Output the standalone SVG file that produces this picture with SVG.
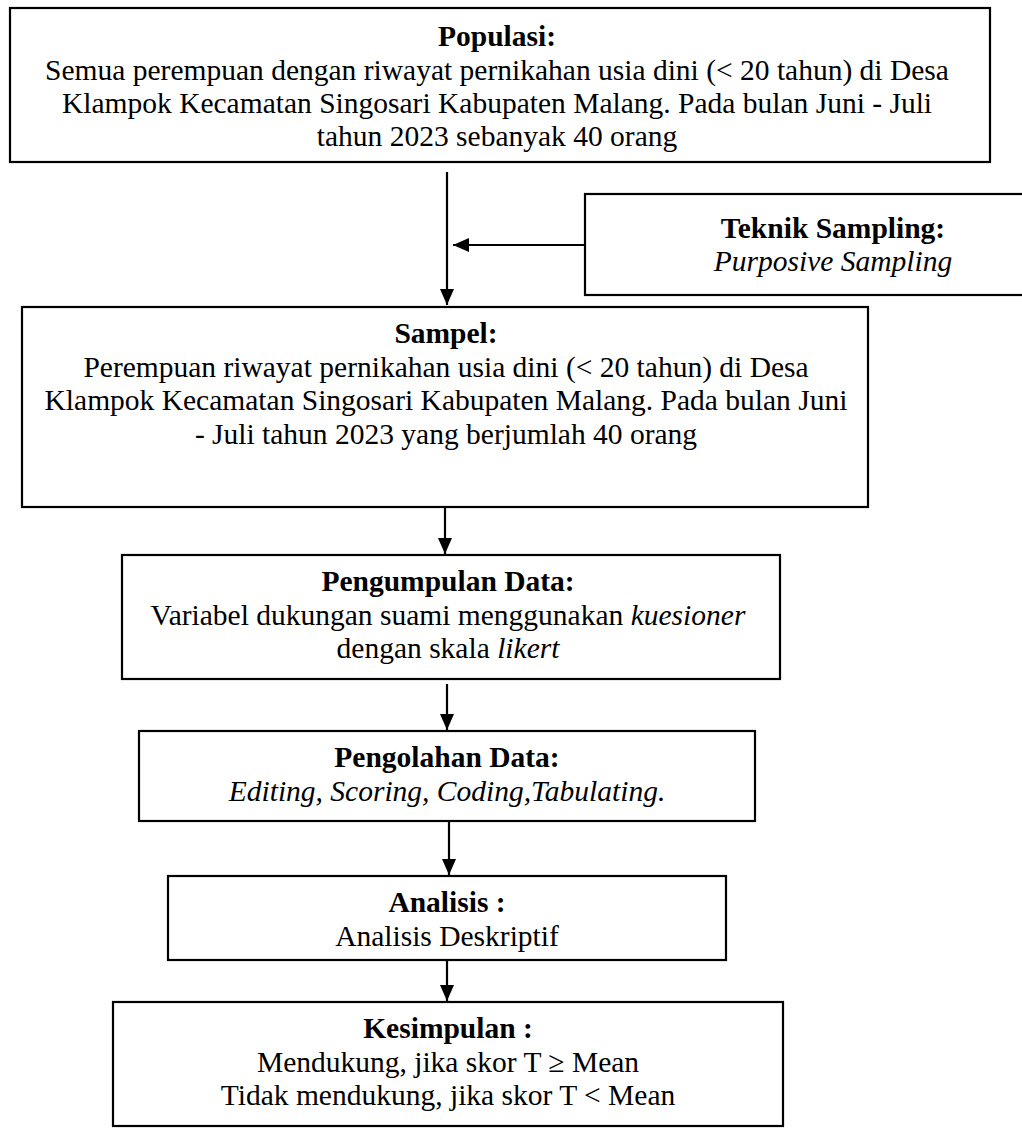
<svg xmlns="http://www.w3.org/2000/svg" width="1022" height="1128" viewBox="0 0 1022 1128">
<style>
.box{fill:#fff;stroke:#000;stroke-width:2.2}
text{font-family:"Liberation Serif","Times New Roman",serif;font-size:29.5px;fill:#000;text-anchor:middle}
.b{font-weight:bold}
.i{font-style:italic}
.c{stroke:#000;stroke-width:2.2;fill:none}
</style>
<defs>
<marker id="a" viewBox="0 0 16 14" refX="16" refY="7" markerWidth="16" markerHeight="14" markerUnits="userSpaceOnUse" orient="auto">
<path d="M0,0 L16,7 L0,14 z" fill="#000"/>
</marker>
</defs>
<rect width="1022" height="1128" fill="#fff"/>
<g id="populasi">
<rect class="box" x="10" y="8" width="980" height="154"/>
<text x="497" y="46" class="b">Populasi:</text>
<text x="497" y="80">Semua perempuan dengan riwayat pernikahan usia dini (&lt; 20 tahun) di Desa</text>
<text x="497" y="113">Klampok Kecamatan Singosari Kabupaten Malang. Pada bulan Juni - Juli</text>
<text x="497" y="146">tahun 2023 sebanyak 40 orang</text>
</g>
<g id="teknik">
<rect class="box" x="585" y="194" width="450" height="101"/>
<text x="833" y="238" class="b">Teknik Sampling:</text>
<text x="833" y="271" class="i">Purposive Sampling</text>
</g>
<g id="sampel">
<rect class="box" x="22" y="307" width="846" height="200"/>
<text x="446" y="343" class="b">Sampel:</text>
<text x="446" y="376.5">Perempuan riwayat pernikahan usia dini (&lt; 20 tahun) di Desa</text>
<text x="446" y="410">Klampok Kecamatan Singosari Kabupaten Malang. Pada bulan Juni</text>
<text x="446" y="443.5">- Juli tahun 2023 yang berjumlah 40 orang</text>
</g>
<g id="pengumpulan">
<rect class="box" x="122" y="555" width="658" height="124"/>
<text x="448" y="591" class="b">Pengumpulan Data:</text>
<text x="448" y="624.5">Variabel dukungan suami menggunakan <tspan class="i">kuesioner</tspan></text>
<text x="448" y="658">dengan skala <tspan class="i">likert</tspan></text>
</g>
<g id="pengolahan">
<rect class="box" x="139" y="731" width="616" height="90"/>
<text x="447" y="767" class="b">Pengolahan Data:</text>
<text x="447" y="800.5" class="i">Editing, Scoring, Coding,Tabulating.</text>
</g>
<g id="analisis">
<rect class="box" x="168" y="876" width="558" height="84"/>
<text x="447" y="912" class="b">Analisis :</text>
<text x="447" y="945.5">Analisis Deskriptif</text>
</g>
<g id="kesimpulan">
<rect class="box" x="113" y="1002" width="670" height="124"/>
<text x="448" y="1038" class="b">Kesimpulan :</text>
<text x="448" y="1071.5">Mendukung, jika skor T ≥ Mean</text>
<text x="448" y="1105">Tidak mendukung, jika skor T &lt; Mean</text>
</g>
<g id="connectors">
<line class="c" x1="447" y1="172" x2="447" y2="305" marker-end="url(#a)"/>
<line class="c" x1="585" y1="245" x2="453" y2="245" marker-end="url(#a)"/>
<line class="c" x1="445" y1="507" x2="445" y2="554" marker-end="url(#a)"/>
<line class="c" x1="447" y1="684" x2="447" y2="730" marker-end="url(#a)"/>
<line class="c" x1="449" y1="821" x2="449" y2="875" marker-end="url(#a)"/>
<line class="c" x1="447" y1="960" x2="447" y2="1001" marker-end="url(#a)"/>
</g>
</svg>
